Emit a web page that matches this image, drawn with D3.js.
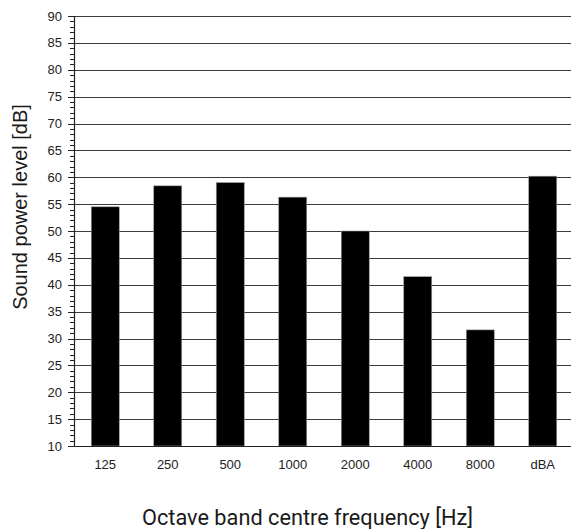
<!DOCTYPE html>
<html><head><meta charset="utf-8">
<script src="https://cdn.jsdelivr.net/npm/d3@7"></script>
<style>body{margin:0;background:#fff}svg{display:block}</style>
</head><body>
<svg id="c" width="571" height="529"></svg>
<script>
const categories = ["125","250","500","1000","2000","4000","8000","dBA"];
const values = [54.5, 58.4, 59.0, 56.3, 50.0, 41.5, 31.6, 60.2];
const yTicks = [10,15,20,25,30,35,40,45,50,55,60,65,70,75,80,85,90];
const xTitle = "Octave band centre frequency [Hz]";
const yTitle = "Sound power level [dB]";

(function(){
const svg = d3.select("#c");
const pLeft = 74, pRight = 574, pTop = 16, pBottom = 446;
const x = d3.scaleBand().domain(categories).range([pLeft, pRight]).paddingInner(0.552).paddingOuter(0.276);
const y = d3.scaleLinear().domain([10, 90]).range([pBottom, pTop]);

// gridlines
svg.append("g").selectAll("line").data(yTicks.slice(1)).join("line")
  .attr("x1", pLeft).attr("x2", 571)
  .attr("y1", d => Math.round(y(d)) + 0.5).attr("y2", d => Math.round(y(d)) + 0.5)
  .attr("stroke", "#3a3a3a").attr("stroke-width", 1.2);

// bars
svg.append("g").selectAll("rect").data(categories).join("rect")
  .attr("x", d => x(d)).attr("width", x.bandwidth())
  .attr("y", (d,i) => y(values[i])).attr("height", (d,i) => pBottom - y(values[i]))
  .attr("fill", "#000").attr("stroke", "#999").attr("stroke-width", 0.6);

// minor ticks
const minor = d3.range(10, 91, 1);
svg.append("g").selectAll("line").data(minor).join("line")
  .attr("x1", d => d % 5 === 0 ? 68 : 70).attr("x2", pLeft)
  .attr("y1", d => Math.round(y(d)) + 0.5).attr("y2", d => Math.round(y(d)) + 0.5)
  .attr("stroke", "#222").attr("stroke-width", 1);

// y axis line
svg.append("line").attr("x1", pLeft + 0.5).attr("x2", pLeft + 0.5).attr("y1", y(90)).attr("y2", pBottom + 0.5)
  .attr("stroke", "#222").attr("stroke-width", 1.2);
// x axis line
svg.append("line").attr("x1", pLeft).attr("x2", 571).attr("y1", Math.round(pBottom) + 0.5).attr("y2", Math.round(pBottom) + 0.5)
  .attr("stroke", "#222").attr("stroke-width", 1.2);

// y tick labels
svg.append("g").selectAll("text").data(yTicks).join("text")
  .attr("x", 62).attr("y", d => y(d)).attr("dy", "0.35em")
  .attr("text-anchor", "end").attr("font-family", "Liberation Sans, Arial, sans-serif")
  .attr("font-size", 13).attr("fill", "#222").text(d => d);

// x tick labels
svg.append("g").selectAll("text").data(categories).join("text")
  .attr("x", d => x(d) + x.bandwidth()/2).attr("y", 469)
  .attr("text-anchor", "middle").attr("font-family", "Liberation Sans, Arial, sans-serif")
  .attr("font-size", 13).attr("fill", "#222").text(d => d);

// axis titles
svg.append("text").attr("x", 142).attr("y", 525)
  .attr("font-family", "Roboto, Inter, sans-serif").attr("font-size", 22).attr("fill", "#1a1a1a")
  .attr("textLength", 331).attr("lengthAdjust", "spacingAndGlyphs")
  .text(xTitle);
svg.append("text").attr("transform", "translate(27,207) rotate(-90)").attr("text-anchor", "middle")
  .attr("font-family", "Liberation Sans, Arial, sans-serif").attr("font-size", 20).attr("fill", "#1a1a1a")
  .text(yTitle);
})();
</script>
</body></html>
